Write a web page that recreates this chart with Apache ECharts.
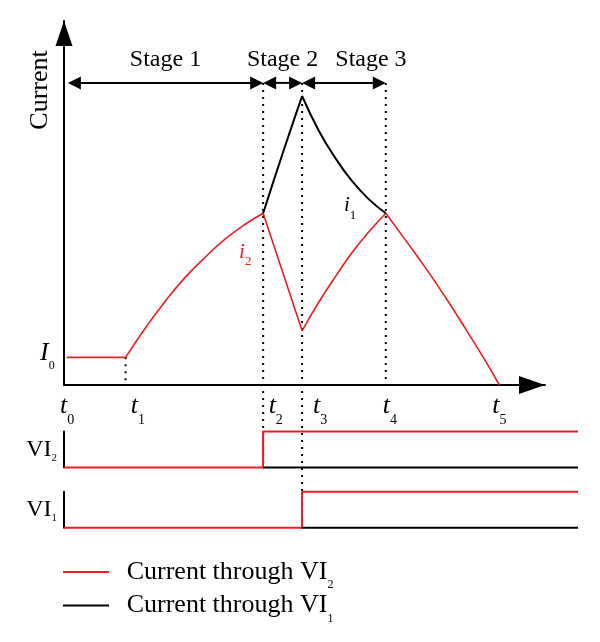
<!DOCTYPE html>
<html><head><meta charset="utf-8">
<script src="https://cdn.jsdelivr.net/npm/echarts@6/dist/echarts.min.js"></script>
<style>html,body{margin:0;padding:0;background:#fff}#c{width:600px;height:642px}</style>
</head><body><div id="c"></div>
<script>
// ---- data (schematic units) ----
const tNames = ['0','1','2','3','4','5'];
const tValues = [0, 1.28, 4.14, 4.95, 6.69, 9.05];
const I0 = 0.76;
const stageNames = ['Stage 1','Stage 2','Stage 3'];
const stageStart = [0.08, 4.14, 4.95];
const stageEnd = [4.14, 4.95, 6.69];
const stageLevel = 8.30;
// i2 (current through VI2), piecewise
const i2Flat = [[0.06,0.76],[1.28,0.76]];
const i2Rise1 = [[1.28,0.76],[1.70,1.58],[2.11,2.31],[2.53,2.97],[2.95,3.53],[3.36,4.02],[3.78,4.43],[4.14,4.72]];
const i2Drop = [[4.14,4.72],[4.95,1.49]];
const i2Rise2 = [[4.95,1.49],[5.30,2.28],[5.65,2.99],[5.99,3.64],[6.34,4.21],[6.69,4.72]];
const i2Fall = [[6.69,4.72],[7.10,3.98],[7.52,3.21],[7.94,2.39],[8.35,1.54],[8.77,0.64],[9.05,0]];
// i1 (current through VI1), piecewise
const i1Rise = [[4.14,4.72],[4.55,6.38],[4.95,7.94]];
const i1Fall = [[4.95,7.94],[5.30,6.98],[5.65,6.22],[5.99,5.60],[6.34,5.10],[6.69,4.72]];
const signalEnd = 10.69;
const vi2Red = [[0,0],[4.14,0],[4.14,1],[10.69,1]];
const vi2Black = [[4.14,0],[10.69,0]];
const vi1Red = [[0,0],[4.95,0],[4.95,1],[10.69,1]];
const vi1Black = [[4.95,0],[10.69,0]];
const curveLabelMain = ['I','i','i'];
const curveLabelSub = ['0','2','1'];
const curveLabelPos = [[0, 0.76],[3.64, 3.63],[5.82, 4.92]];
const seriesNames = ['Current through VI2','Current through VI1'];

// ---- styling ----
const RED = '#ee1d23';
const FONT = '"Liberation Serif","Times New Roman",serif';
const tLabelDx = [-4, 5.3, 5.5, 11, -3, -7];
const stageLabelDx = [0, 0, 27];

const chart = echarts.init(document.getElementById('c'));

function subRich(mainSize, subSize, shift, color, italic) {
  return {
    m: {fontFamily: FONT, fontSize: mainSize, fontStyle: italic ? 'italic' : 'normal', fill: color, color: color, lineHeight: mainSize + 4, verticalAlign: 'middle'},
    s: {fontFamily: FONT, fontSize: subSize, fill: color, color: color, padding: [shift * 2, 0, 0, 0], lineHeight: mainSize + 4, verticalAlign: 'middle'}
  };
}

const hiddenX = (g, max) => ({gridIndex: g, type: 'value', min: 0, max: max, show: false});
const curve = (name, data, color, width, smooth) => ({name: name, type: 'line', data: data, showSymbol: false, z: 3, smooth: smooth,
  itemStyle: {color: color}, lineStyle: {color: color, width: width}});

const option = {
  animation: false,
  backgroundColor: '#fff',
  grid: [
    {left: 64, right: 55, top: 21, bottom: 257},
    {left: 64, right: 22, top: 431.5, height: 36},
    {left: 64, right: 22, top: 491.7, height: 36}
  ],
  xAxis: [
    {gridIndex: 0, type: 'value', min: 0, max: 10,
      axisLine: {show: true, onZero: false, symbol: ['none', 'triangle'], symbolSize: [18, 26], symbolOffset: [0, -13], lineStyle: {color: '#000', width: 2}},
      axisTick: {show: false}, axisLabel: {show: false}, splitLine: {show: false}},
    hiddenX(1, signalEnd),
    hiddenX(2, signalEnd)
  ],
  yAxis: [
    {gridIndex: 0, type: 'value', min: 0, max: 10,
      name: 'Current', nameLocation: 'middle', nameRotate: 90, nameGap: 11,
      nameTextStyle: {fontFamily: FONT, fontSize: 26, color: '#000', padding: [0, 0, 0, 226]},
      axisLine: {show: true, onZero: false, symbol: ['none', 'triangle'], symbolSize: [17, 25], symbolOffset: [0, -12.5], lineStyle: {color: '#000', width: 2}},
      axisTick: {show: false}, axisLabel: {show: false}, splitLine: {show: false}},
    {gridIndex: 1, type: 'value', min: 0, max: 1, name: '{m|VI}{s|2}', nameLocation: 'middle', nameRotate: 0, nameGap: 7,
      nameTextStyle: {rich: subRich(24, 11, 8.5, '#000', false)},
      axisLine: {show: true, lineStyle: {color: '#000', width: 2}}, axisTick: {show: false}, axisLabel: {show: false}, splitLine: {show: false}},
    {gridIndex: 2, type: 'value', min: 0, max: 1, name: '{m|VI}{s|1}', nameLocation: 'middle', nameRotate: 0, nameGap: 7,
      nameTextStyle: {rich: subRich(24, 11, 8.5, '#000', false)},
      axisLine: {show: true, lineStyle: {color: '#000', width: 2}}, axisTick: {show: false}, axisLabel: {show: false}, splitLine: {show: false}}
  ],
  legend: {
    data: seriesNames, orient: 'vertical', left: 58, top: 548,
    itemWidth: 46, itemHeight: 2, icon: 'rect', itemGap: -4.6, selectedMode: false,
    formatter: n => '{sp| }{m|Current through VI}{s|' + n.slice(-1) + '}',
    textStyle: {rich: Object.assign({sp: {width: 12.7}}, subRich(26, 12, 13, '#000', false))}
  },
  series: [
    curve(seriesNames[0], i2Flat, RED, 1.6, false),
    curve(seriesNames[0], i2Rise1, RED, 1.6, 0.5),
    curve(seriesNames[0], i2Drop, RED, 1.6, false),
    curve(seriesNames[0], i2Rise2, RED, 1.6, 0.5),
    curve(seriesNames[0], i2Fall, RED, 1.6, 0.5),
    curve(seriesNames[1], i1Rise, '#000', 2, 0.3),
    curve(seriesNames[1], i1Fall, '#000', 2, 0.5),
    {name: 'vi2r', type: 'line', xAxisIndex: 1, yAxisIndex: 1, data: vi2Red, showSymbol: false, z: 2, clip: false,
      itemStyle: {color: RED}, lineStyle: {color: RED, width: 2}},
    {name: 'vi2b', type: 'line', xAxisIndex: 1, yAxisIndex: 1, data: vi2Black, showSymbol: false, z: 3, clip: false,
      itemStyle: {color: '#000'}, lineStyle: {color: '#000', width: 2}},
    {name: 'vi1r', type: 'line', xAxisIndex: 2, yAxisIndex: 2, data: vi1Red, showSymbol: false, z: 2, clip: false,
      itemStyle: {color: RED}, lineStyle: {color: RED, width: 2}},
    {name: 'vi1b', type: 'line', xAxisIndex: 2, yAxisIndex: 2, data: vi1Black, showSymbol: false, z: 3, clip: false,
      itemStyle: {color: '#000'}, lineStyle: {color: '#000', width: 2}},
    // dotted guide lines: [t, top value, grid of bottom end, bottom value]
    {name: 'guides', type: 'custom', z: 1, clip: false,
      data: [[tValues[1], I0, 0, 0], [tValues[2], stageLevel, 1, 0], [tValues[3], stageLevel, 2, 0], [tValues[4], stageLevel, 0, 0]],
      renderItem: function (params, api) {
        const x = api.value(0), g = api.value(2);
        const p0 = api.coord([x, api.value(1)]);
        let p1;
        if (g === 0) p1 = api.coord([x, api.value(3)]);
        else p1 = chart.convertToPixel({xAxisIndex: g, yAxisIndex: g}, [x, api.value(3)]);
        return {type: 'line', shape: {x1: p0[0], y1: p0[1], x2: p0[0], y2: p1[1]},
          style: {stroke: '#000', lineWidth: 2, lineDash: [2, 5]}};
      }},
    // stage arrows
    {name: 'stages', type: 'custom', z: 4, clip: false,
      data: stageStart.map((s, i) => [s, stageEnd[i], stageLevel, i]),
      renderItem: function (params, api) {
        const i = api.value(3);
        const a = api.coord([api.value(0), api.value(2)]);
        const b = api.coord([api.value(1), api.value(2)]);
        const y = a[1], L = 13, W = 6.5;
        return {type: 'group', children: [
          {type: 'line', shape: {x1: a[0] + L - 1, y1: y, x2: b[0] - L + 1, y2: y}, style: {stroke: '#000', lineWidth: 2}},
          {type: 'polygon', shape: {points: [[a[0], y], [a[0] + L, y - W], [a[0] + L, y + W]]}, style: {fill: '#000'}},
          {type: 'polygon', shape: {points: [[b[0], y], [b[0] - L, y - W], [b[0] - L, y + W]]}, style: {fill: '#000'}},
          {type: 'text', x: (a[0] + b[0]) / 2 + stageLabelDx[i], y: y - 23,
            style: {text: stageNames[i], fontFamily: FONT, fontSize: 24, fill: '#000', align: 'center', verticalAlign: 'middle'}}
        ]};
      }},
    // t labels
    {name: 'tlabels', type: 'custom', z: 5, clip: false,
      data: tValues.map((v, k) => [v, 0, k]),
      renderItem: function (params, api) {
        const k = api.value(2);
        const p = api.coord([api.value(0), api.value(1)]);
        return {type: 'text', x: p[0] + tLabelDx[k], y: p[1] + 21,
          style: {text: '{m|t}{s|' + tNames[k] + '}', rich: subRich(26, 14, 14, '#000', true), align: 'left', verticalAlign: 'middle', fill: '#000'}};
      }},
    // curve labels
    {name: 'clabels', type: 'custom', z: 5, clip: false,
      data: curveLabelPos.map((p, k) => [p[0], p[1], k]),
      renderItem: function (params, api) {
        const k = api.value(2);
        const p = api.coord([api.value(0), api.value(1)]);
        let rich, dx = 0, dy = 0;
        if (k === 0) { rich = subRich(26, 12, 13, '#000', true); dx = -24; dy = -4.3; }
        else if (k === 1) rich = subRich(21, 13, 9, RED, true);
        else rich = subRich(21, 13, 10, '#000', true);
        return {type: 'text', x: p[0] + dx, y: p[1] + dy,
          style: {text: '{m|' + curveLabelMain[k] + '}{s|' + curveLabelSub[k] + '}', rich: rich, align: 'left', verticalAlign: 'middle', fill: '#000'}};
      }}
  ]
};
chart.setOption(option);
</script>
</body></html>
